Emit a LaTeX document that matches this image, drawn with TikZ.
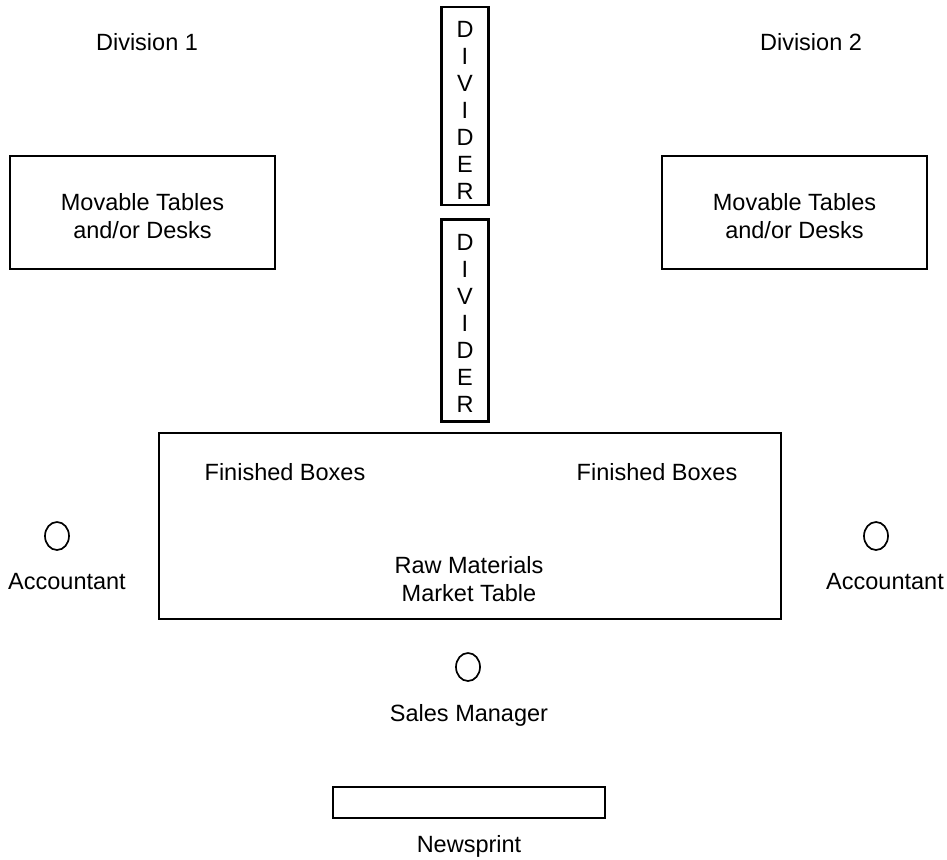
\documentclass[tikz,border=0pt]{standalone}
\usepackage{fontspec}
\setmainfont{Liberation Sans}
\usetikzlibrary{shapes.geometric}
\begin{document}
\begin{tikzpicture}[x=1pt,y=-1pt,
  every node/.style={font=\fontsize{23.5}{28}\selectfont, inner sep=0pt, align=center},
  box/.style={draw, line width=2.2pt, rectangle},
  seat/.style={draw, line width=1.7pt, ellipse, minimum width=24pt, minimum height=28pt},
  lbl/.style={}]
\useasboundingbox (0,0) rectangle (947,859);

% division headings
\node[lbl] (div1) at (147,42) {Division 1};
\node[lbl] (div2) at (811,42) {Division 2};

% movable tables
\node[box, minimum width=265pt, minimum height=113pt] (tabL) at (142.5,212.5) {};
\node[lbl] (tabLt) at (142.5,216) {Movable Tables\\and/or Desks};
\node[box, minimum width=265pt, minimum height=113pt] (tabR) at (794.5,212.5) {};
\node[lbl] (tabRt) at (794.5,216) {Movable Tables\\and/or Desks};

% dividers
\node[box, minimum width=47pt, minimum height=198pt] (dvA) at (465,106) {};
\node[lbl, font=\fontsize{23.5}{27}\selectfont] (dvAt) at (465,110) {D\\I\\V\\I\\D\\E\\R};
\node[box, minimum width=47pt, minimum height=202pt] (dvB) at (465,320.5) {};
\node[lbl, font=\fontsize{23.5}{27}\selectfont] (dvBt) at (465,323) {D\\I\\V\\I\\D\\E\\R};

% market table
\node[box, minimum width=622pt, minimum height=186pt] (mkt) at (470,526) {};
\node[lbl] (finL) at (285,472) {Finished Boxes};
\node[lbl] (finR) at (657,472) {Finished Boxes};
\node[lbl] (raw) at (469,579) {Raw Materials\\Market Table};

% people
\node[seat] (accL) at (57,536) {};
\node[lbl] (accLt) at (67,582) {Accountant};
\node[seat] (accR) at (876,536) {};
\node[lbl] (accRt) at (885,582) {Accountant};
\node[seat] (sm) at (468,667) {};
\node[lbl] (smt) at (469,715) {Sales Manager};

% newsprint
\node[box, minimum width=272pt, minimum height=31pt] (news) at (469,802.5) {};
\node[lbl] (newst) at (469,846) {Newsprint};
\end{tikzpicture}
\end{document}
